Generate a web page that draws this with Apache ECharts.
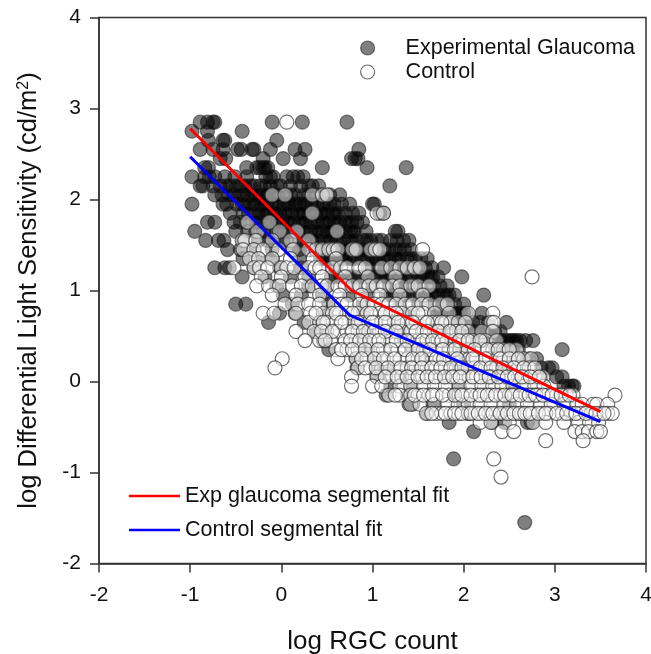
<!DOCTYPE html>
<html><head><meta charset="utf-8">
<script src="https://cdn.jsdelivr.net/npm/echarts@6/dist/echarts.min.js"></script>
<style>html,body{margin:0;padding:0;background:#fff}#c{width:651px;height:654px}</style></head>
<body><div id="c"></div>
<script>
const xTicks = [-2,4];
const fitExpX = [-1, 0.77, 3.5];
const fitExpY = [2.78, 1.0, -0.33];
const fitCtrlX = [-1, 0.75, 3.5];
const fitCtrlY = [2.47, 0.73, -0.44];

const expLevels = [2.85,2.75,2.65,2.55,2.45,2.35,2.25,2.15,2.05,1.95,1.85,1.75,1.65,1.55,1.45,1.35,1.25,1.15,1.05,0.95,0.85,0.75,0.65,0.55,0.45,0.35,0.25,0.15,0.05,-0.05,-0.15,-0.25,-0.35,-0.45,-0.55,-0.85,-1.55];
const expXs = [
 [-.89,-.81,-.75,-.73,-.1,.23,.72],
 [-.98,-.81,-.43],
 [-.8,-.64,-.62,-.05],
 [-.89,-.75,-.64,-.48,-.44,-.32,-.3,-.12,.15,.26,.85],
 [-.67,-.61,-.2,.02,.21,.77,.81,.84],
 [-.84,-.8,-.38,-.27,-.24,-.2,-.18,-.15,.45,.94,1.37],
 [-.98,-.84,-.79,-.73,-.62,-.51,-.38,-.17,-.12,-.09,.06,.13,.18,.24],
 [-.89,-.86,-.75,-.67,-.56,-.45,-.34,-.23,-.12,-.01,.1,.21,.3,.34,.41,1.19],
 [-.73,-.65,-.52,-.42,-.37,-.3,-.2,-.14,-.07,.05,.1,.25,.38,.44,.53,.64],
 [-.98,-.64,-.6,-.49,-.43,-.33,-.27,-.22,-.16,-.1,-.03,.03,.09,.16,.2,.27,.33,.39,.46,.53,.58,.66,.75,1.0,1.02],
 [-.56,-.42,-.3,-.2,-.14,-.08,-.02,.04,.12,.18,.24,.3,.38,.44,.5,.56,.62,.7,.78,.85,1.08,1.12],
 [-.81,-.73,-.52,-.38,-.25,-.18,-.12,-.05,.01,.07,.14,.2,.26,.32,.4,.46,.52,.58,.64,.7,.77,.83,.89],
 [-.95,-.5,-.37,-.2,-.05,.03,.1,.18,.24,.32,.38,.45,.5,.56,.63,.7,.76,.8,.93,1.25,1.28],
 [-.83,-.69,-.63,-.42,-.25,-.1,.06,.25,.33,.4,.48,.54,.6,.68,.75,.82,.9,.98,1.05,1.2,1.27,1.34,1.4],
 [-.59,-.45,-.3,-.1,.12,.32,.42,.5,.55,.62,.68,.75,.82,.9,.97,1.03,1.13,1.25,1.35,1.42],
 [-.42,-.25,-.1,.2,.43,.5,.55,.6,.65,.7,.75,.8,.88,.95,1.0,1.06,1.12,1.18,1.25,1.3,1.38,1.47,1.53,1.6],
 [-.73,-.62,-.57,-.3,-.02,.22,.6,.95,1.08,1.14,1.2,1.27,1.34,1.42,1.5,1.58,1.65,1.78],
 [-.43,-.18,.1,.3,.55,.65,.72,.8,.88,.95,1.02,1.08,1.14,1.2,1.25,1.3,1.36,1.44,1.5,1.55,1.6,1.66,1.72,1.98],
 [-.05,.3,.5,.82,1,1.18,1.25,1.32,1.4,1.52,1.67,1.74,1.82],
 [.02,.22,.45,.75,.95,1.15,1.25,1.35,1.45,1.52,1.6,1.66,1.72,1.78,1.84,1.9,2.22],
 [-.5,-.39,.12,.52,.9,1.3,1.5,1.66,1.74,1.82,1.9,2.0],
 [-.02,.15,.48,.9,1.4,1.68,1.75,1.82,1.9,1.96,2.03,2.2],
 [-.14,.25,.42,.8,1.3,1.7,1.85,1.95,2.02,2.1,2.18,2.27,2.47],
 [.38,.5,.92,1.3,1.75,1.95,2.05,2.12,2.2,2.28,2.34,2.4],
 [.46,.9,1.35,1.85,2.05,2.2,2.33,2.4,2.47,2.53,2.58,2.62,2.68,2.76],
 [.52,.95,1.45,1.95,2.36,2.46,2.54,2.6,3.08],
 [.82,1.02,1.55,2.0,2.45,2.58,2.65,2.72,2.8],
 [.83,1.05,1.15,1.42,1.95,2.45,2.85,2.93,2.97],
 [1.05,1.32,1.8,2.3,2.85,3.02,3.08],
 [1.2,1.42,1.95,2.55,3.1,3.15,3.19,3.21],
 [1.15,1.38,1.9,2.5,3.05],
 [1.4,1.44,1.66,1.68,2.0,2.5],
 [1.6,2.05,2.4],
 [1.84,2.31,2.45,2.7,2.74],
 [2.11],
 [1.89],
 [2.67]
];
/* second group of overlapping glaucoma eyes in the darkest patches */
const expDenseLevels = [2.15,2.05,1.95,1.85,1.75,1.65,1.55,1.45,1.35,1.15,0.95,0.75,0.55,0.45];
const expDenseXs = [
 [-.6,-.5,-.4,-.3,-.18,-.05],
 [-.58,-.47,-.33,-.25,-.17,-.04,.15,.3],
 [-.4,-.3,-.19,-.06,.06,.13,.24,.36,.5],
 [-.36,-.25,-.17,-.05,.07,.21,.35,.47,.59],
 [-.45,-.28,-.15,-.02,.1,.23,.36,.49,.61,.74],
 [-.28,-.12,-.02,.14,.28,.41,.53,.66,.79],
 [-.15,.02,.2,.36,.51,.64,.78,.94,1.1],
 [.2,.46,.59,.72,.86,1.0,1.18,1.3],
 [.46,.58,.68,.78,.91,1.03,1.15,1.28,1.42],
 [.6,.76,.92,1.05,1.17,1.28,1.4,1.53,1.64],
 [1.2,1.4,1.58,1.69,1.81],
 [1.72,1.86,1.93,2.0],
 [2.08,2.24,2.3],
 [2.43,2.5,2.56]
];

const ctrlLevels = [2.85,2.05,1.85,1.75,1.65,1.55,1.45,1.35,1.25,1.15,1.05,0.95,0.85,0.75,0.65,0.55,0.45,0.35,0.25,0.15,0.05,-0.05,-0.15,-0.25,-0.35,-0.45,-0.55,-0.65,-0.85,-1.05];
const ctrlXs = [
 [.06],
 [-.1,.04,.34,.45,.5],
 [.34,1.05,1.12],
 [-.37,-.13],
 [-.26,-.02,.17,.61],
 [-.43,-.4,-.28,-.1,.1,.3],
 [-.42,-.3,-.2,-.03,.13,.3,.38,.45,.52,.57,.62,.78,.82,.98,1.03,1.08,1.55],
 [-.35,-.25,-.1,.1,.35,.6],
 [-.52,-.3,-.24,-.15,0,.06,.14,.3,.37,.42,.56,.65,.72,.85,.92,1.1,1.2,1.3,1.38,1.46,1.52],
 [-.22,0,.26,.45,.7,.95,1.25,2.75],
 [-.27,-.14,-.02,.12,.22,.34,.44,.5,.62,.7,.78,.86,.96,1.04,1.12,1.22,1.3,1.42,1.5,1.62],
 [-.1,.16,.42,.64,.88,1.08,1.3,1.55],
 [.04,.18,.3,.42,.58,.66,.72,.86,.94,1.02,1.1,1.18,1.26,1.36,1.44,1.54,1.62,1.74,1.82],
 [-.2,-.08,.16,.32,.46,.56,.64,.72,.84,.94,1.08,1.2,1.32,1.44,1.56,1.68,1.84,2.05,2.32],
 [.3,.42,.5,.6,.7,.8,.88,.96,1.04,1.1,1.18,1.24,1.32,1.38,1.48,1.56,1.66,1.72,1.8,1.86,1.94,2.02,2.3,2.33],
 [.16,.36,.5,.62,.72,.84,.96,1.08,1.2,1.32,1.42,1.55,1.68,1.78,1.92,2.05,2.2,2.32],
 [.26,.42,.54,.7,.82,.92,1.02,1.12,1.2,1.32,1.44,1.5,1.6,1.72,1.82,1.9,2,2.1,2.24,2.36],
 [.6,.72,.84,1,1.12,1.28,1.44,1.56,1.7,1.84,1.96,2.04,2.2,2.32,2.44,2.58],
 [.01,.62,.82,.94,1.08,1.16,1.3,1.38,1.5,1.58,1.66,1.74,1.82,1.88,1.98,2.06,2.14,2.28,2.36,2.44,2.55,2.66,2.74],
 [-.07,.84,.98,1.1,1.24,1.38,1.48,1.6,1.7,1.8,1.92,2.05,2.12,2.24,2.36,2.5,2.6,2.72],
 [.77,1.05,1.22,1.32,1.44,1.55,1.64,1.74,1.84,1.92,2.0,2.06,2.14,2.24,2.32,2.44,2.52,2.6,2.68,2.78,2.87],
 [.77,1.0,1.1,1.3,1.42,1.56,1.68,1.8,1.95,2.08,2.2,2.32,2.42,2.54,2.66,2.78,2.88],
 [1.18,1.3,1.42,1.5,1.62,1.7,1.84,1.95,2.02,2.14,2.22,2.3,2.4,2.5,2.56,2.68,2.76,2.82,2.92,3.02,3.12,3.2,3.66],
 [1.42,1.52,1.68,1.82,1.94,2.05,2.18,2.3,2.44,2.58,2.7,2.84,2.96,3.1,3.24,3.3,3.42,3.46,3.58],
 [1.59,1.7,1.76,1.86,1.94,2.05,2.12,2.2,2.28,2.36,2.44,2.52,2.58,2.64,2.7,2.76,2.86,2.94,3.08,3.18,3.28,3.4,3.5,3.58,3.63],
 [2.18,2.3,2.5,2.76,2.9,3.1,3.26,3.38,3.48],
 [2.42,2.55,3.22,3.3,3.37,3.46,3.5],
 [2.9,3.31],
 [2.33],
 [2.41]
];
/* second group of overlapping control eyes in the busiest rows */
const ctrlDenseLevels = [0.75,0.65,0.55,0.45,0.35,0.25,0.15,0.05,-0.15,-0.35];
const ctrlDenseXs = [
 [.38,.6,.78,.98,1.14,1.26,1.5],
 [.46,.66,.84,1.0,1.14,1.28,1.44,1.6,1.76],
 [.44,.56,.78,.9,1.02,1.14,1.26,1.48,1.6,1.72,1.85,1.98],
 [.48,.76,.86,.97,1.07,1.26,1.38,1.55,1.66,1.76,1.95,2.05,2.18],
 [.66,.78,.92,1.06,1.2,1.36,1.5,1.63,1.77,1.9,2.12,2.26,2.38,2.5],
 [.88,1.02,1.12,1.24,1.44,1.54,1.7,1.78,1.93,2.1,2.24,2.4,2.5,2.6],
 [.92,1.04,1.17,1.31,1.43,1.54,1.65,1.75,1.86,1.98,2.18,2.3,2.43,2.55,2.66,2.78],
 [1.14,1.27,1.38,1.5,1.6,1.69,1.79,1.88,1.96,2.1,2.19,2.28,2.38,2.48,2.56,2.64,2.73,2.83],
 [1.25,1.46,1.56,1.66,1.77,1.9,1.98,2.08,2.18,2.26,2.35,2.45,2.53,2.62,2.72,2.79,2.87,2.97,3.07,3.16],
 [1.65,1.8,1.9,1.98,2.08,2.16,2.24,2.32,2.4,2.48,2.55,2.61,2.67,2.73,2.82,2.9,3.02,3.13,3.23,3.34,3.45,3.54]
];

function toPoints(levels, xs){
  const out = [];
  levels.forEach((y, i) => xs[i].forEach(x => out.push([x, y])));
  return out;
}
function zip(a, b){ return a.map((x, i) => [x, b[i]]); }

const font = 'Liberation Sans, Arial, sans-serif';
const chart = echarts.init(document.getElementById('c'), null, {renderer:'canvas'});
chart.setOption({
  animation:false,
  backgroundColor:'#fff',
  textStyle:{fontFamily:font},
  grid:{left:99,right:5,top:17.5,bottom:90.5,outerBoundsMode:'none',show:true,borderColor:'#333',borderWidth:1.5,backgroundColor:'transparent'},
  legend:[
    {data:['Experimental Glaucoma','Control'],left:355,top:32,orient:'vertical',itemWidth:14,itemHeight:14,itemGap:2,
     itemStyle:{borderWidth:1.2},
     textStyle:{fontSize:21.5,color:'#111',fontFamily:font,padding:[0,0,0,26]}},
    {data:['Exp glaucoma segmental fit','Control segmental fit'],left:124,top:480,orient:'vertical',icon:'rect',itemWidth:51,itemHeight:2.5,itemGap:12,
     textStyle:{fontSize:21.5,color:'#111',fontFamily:font,padding:[0,0,0,0]}}
  ],
  xAxis:{type:'value',min:xTicks[0],max:xTicks[1],interval:1,
    name:'log RGC count',nameLocation:'middle',nameGap:65,
    nameTextStyle:{fontSize:26,color:'#111',fontFamily:font},
    axisLine:{show:true,onZero:false,lineStyle:{color:'#333',width:1.5}},
    axisTick:{show:true,length:9,lineStyle:{color:'#333',width:1.5}},
    axisLabel:{fontSize:21,color:'#111',margin:21,fontFamily:font},
    splitLine:{show:false}},
  yAxis:{type:'value',min:-2,max:4,interval:1,
    name:'{a|log Differential Light Sensitivity (cd/m}{s|2}{a|)}',nameLocation:'middle',nameGap:57,
    nameTextStyle:{rich:{a:{fontSize:25.6,color:'#111',fontFamily:font},s:{fontSize:16,color:'#111',fontFamily:font,verticalAlign:'top',padding:[0,0,8,0]}}},
    axisLine:{show:true,onZero:false,lineStyle:{color:'#333',width:1.5}},
    axisTick:{show:true,length:9,lineStyle:{color:'#333',width:1.5}},
    axisLabel:{fontSize:21,color:'#111',margin:18,fontFamily:font},
    splitLine:{show:false}},
  series:[
    {name:'Experimental Glaucoma',type:'scatter',symbolSize:14,z:2,
     data:toPoints(expLevels,expXs).concat(toPoints(expDenseLevels,expDenseXs)),
     itemStyle:{color:'rgba(0,0,0,0.5)',borderColor:'rgba(30,30,30,0.55)',borderWidth:1.2,opacity:1}},
    {name:'Control',type:'scatter',symbolSize:14,z:3,
     data:toPoints(ctrlLevels,ctrlXs).concat(toPoints(ctrlDenseLevels,ctrlDenseXs)),
     itemStyle:{color:'rgba(255,255,255,0.5)',borderColor:'rgba(50,50,50,0.7)',borderWidth:1.2,opacity:1}},
    {name:'Exp glaucoma segmental fit',type:'line',z:5,symbol:'none',data:zip(fitExpX,fitExpY),
     lineStyle:{color:'#f00',width:3},itemStyle:{color:'#f00'}},
    {name:'Control segmental fit',type:'line',z:5,symbol:'none',data:zip(fitCtrlX,fitCtrlY),
     lineStyle:{color:'#00f',width:3},itemStyle:{color:'#00f'}}
  ]
});
</script></body></html>
